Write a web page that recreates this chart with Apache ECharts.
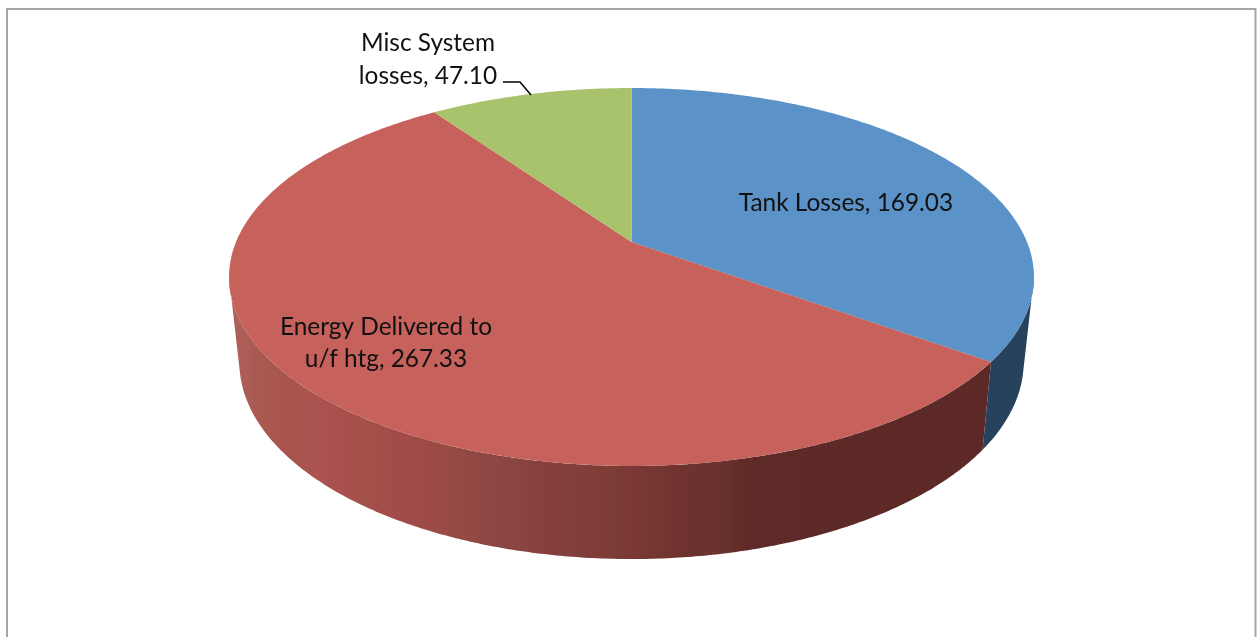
<!DOCTYPE html>
<html>
<head>
<meta charset="utf-8">
<style>html,body{margin:0;padding:0;background:#fff}#c{width:1258px;height:637px}</style>
<script src="https://cdn.jsdelivr.net/npm/echarts@6/dist/echarts.min.js"></script>
</head>
<body>
<div id="c"></div>
<script>
const categories = ['Tank Losses', 'Energy Delivered to\nu/f htg', 'Misc System\nlosses'];
const values = [169.03, 267.33, 47.10];
const topColors = ['#5B92C8', '#C7615C', '#A8C36C'];

const total = values.reduce((a, b) => a + b, 0);
const spans = [];
values.reduce((acc, v) => { const end = acc + v / total * 360; spans.push([acc, end]); return end; }, 0);

const cx = 631.5;
const topPlane = { A: 395.5, B: 182.5, a: 0.1852, y0: 242 };
const basePlane = { A: 385, B: 189.9, a: 0.19, y0: 324.6 };
function project(p, deg) {
  const t = deg * Math.PI / 180, u = Math.sin(t), v = Math.cos(t), w = 1 + p.a * v;
  return [cx + p.A * u / w, p.y0 - p.B * v / w];
}
function arc(p, from, to) {
  const pts = [], n = Math.max(2, Math.ceil(Math.abs(to - from) * 2));
  for (let i = 0; i <= n; i++) pts.push(project(p, from + (to - from) * i / n));
  return pts;
}
const topClip = Math.asin(topPlane.a) * 180 / Math.PI;
const baseClip = Math.asin(0.2526) * 180 / Math.PI;

const redShade = [[240,'#AE5F5A'],[255,'#A95A51'],[285,'#A8554E'],[320,'#AB5350'],[350,'#A64F4B'],[370,'#A2504A'],[395,'#A24C48'],[430,'#9D4A46'],[450,'#984B43'],[470,'#934942'],[490,'#8F4644'],[520,'#8A4540'],[545,'#853F3D'],[580,'#813F3B'],[610,'#7C3D34'],[630,'#7A3936'],[660,'#743630'],[680,'#6F322E'],[720,'#693230'],[740,'#642B28'],[755,'#5E2A28'],[990,'#5C2926']];
const wallFill = [
  '#26425C',
  new echarts.graphic.LinearGradient(240, 0, 990, 0, redShade.map(s => ({ offset: (s[0] - 240) / 750, color: s[1] })), true),
  '#7C9150'
];

const labelPos = [[846, 203], [386, 343], [428, 59.5]];
const leader = [[503, 82], [520, 82], [531, 95]];

const chart = echarts.init(document.getElementById('c'), null, { renderer: 'canvas' });
chart.setOption({
  animation: false,
  backgroundColor: '#fff',
  graphic: [{
    type: 'rect', silent: true, z: 0,
    shape: { x: 7, y: 9, width: 1248.5, height: 700 },
    style: { fill: '#fff', stroke: '#A6A6A6', lineWidth: 2 }
  }],
  series: [{
    type: 'custom', coordinateSystem: 'none', z: 2, silent: true,
    data: values,
    renderItem(params) {
      const i = params.dataIndex, s = spans[i];
      const tf = Math.max(s[0], 90 + topClip), tt = Math.min(s[1], 270 - topClip);
      const bf = Math.max(s[0], 90 + baseClip), bt = Math.min(s[1], 270 - baseClip);
      if (tf >= tt) return { type: 'group', children: [] };
      const pts = arc(topPlane, tf, tt).concat(arc(basePlane, bt, bf));
      return { type: 'polygon', shape: { points: pts }, style: { fill: wallFill[i] } };
    }
  }, {
    type: 'custom', coordinateSystem: 'none', z: 3, silent: true,
    data: values,
    renderItem(params) {
      const i = params.dataIndex, s = spans[i];
      const pts = [[cx, topPlane.y0]].concat(arc(topPlane, s[0], s[1]));
      return { type: 'polygon', shape: { points: pts }, style: { fill: topColors[i] } };
    }
  }, {
    type: 'custom', coordinateSystem: 'none', z: 4, silent: true,
    data: values,
    renderItem(params) {
      const i = params.dataIndex;
      return {
        type: 'text', x: labelPos[i][0], y: labelPos[i][1],
        style: {
          text: categories[i] + ', ' + values[i].toFixed(2),
          fill: '#111', fontFamily: 'Lato', fontSize: 24.4, lineHeight: 32.5,
          align: 'center', verticalAlign: 'middle'
        }
      };
    }
  }, {
    type: 'custom', coordinateSystem: 'none', z: 4, silent: true,
    data: [0],
    renderItem() {
      return { type: 'polyline', shape: { points: leader }, style: { fill: 'none', stroke: '#000', lineWidth: 1.5 } };
    }
  }]
});
</script>
</body>
</html>
